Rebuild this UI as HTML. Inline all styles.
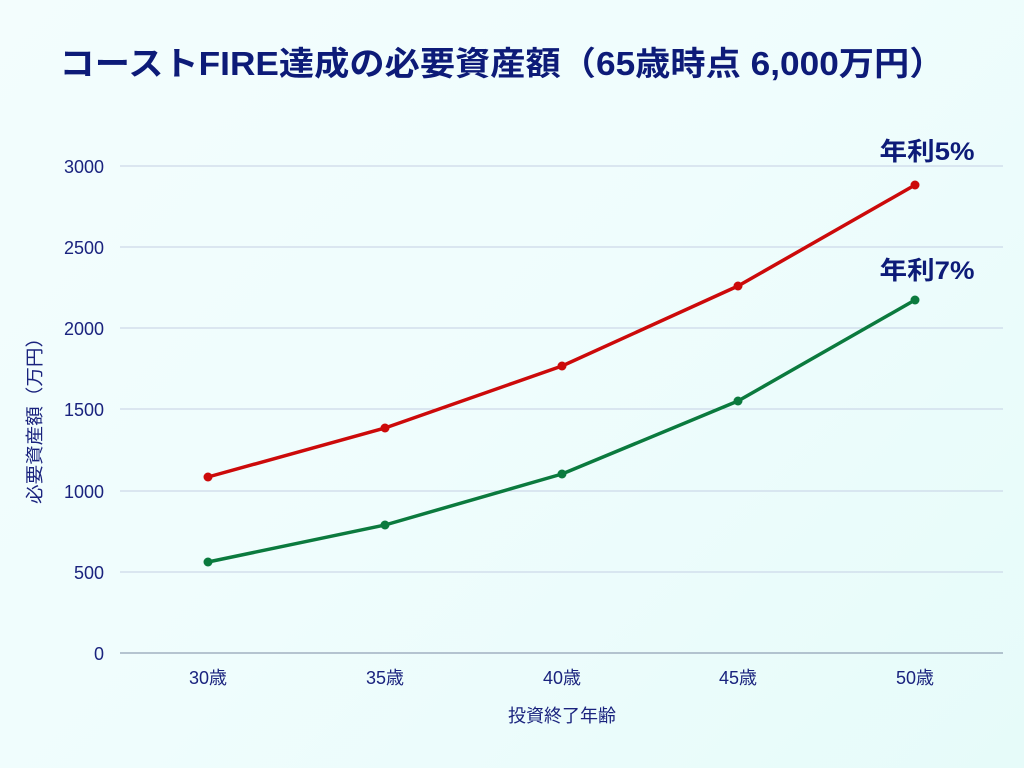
<!DOCTYPE html>
<html><head><meta charset="utf-8"><style>
html,body{margin:0;padding:0;}
body{width:1024px;height:768px;background:linear-gradient(135deg,#f3fdfd 0%,#effdfd 50%,#e6fbf9 100%);overflow:hidden;}
</style></head><body>
<svg width="1024" height="768" xmlns="http://www.w3.org/2000/svg" style="position:absolute;left:0;top:0;font-family:'Liberation Sans','Noto Sans CJK JP',sans-serif;">
<text x="502" y="75" text-anchor="middle" font-size="33" font-weight="bold" fill="#0d1b78" textLength="885" lengthAdjust="spacingAndGlyphs">コーストFIRE達成の必要資産額（65歳時点 6,000万円）</text>
<g stroke="#c5d0e4" stroke-width="1">
<line x1="120" y1="166" x2="1003" y2="166"/>
<line x1="120" y1="247" x2="1003" y2="247"/>
<line x1="120" y1="328" x2="1003" y2="328"/>
<line x1="120" y1="409" x2="1003" y2="409"/>
<line x1="120" y1="491" x2="1003" y2="491"/>
<line x1="120" y1="572" x2="1003" y2="572"/>
</g>
<line x1="120" y1="653" x2="1003" y2="653" stroke="#7b8aa3" stroke-width="1"/>
<g font-size="18" fill="#1a237e" text-anchor="end">
<text x="104" y="173">3000</text><text x="104" y="254">2500</text><text x="104" y="335">2000</text>
<text x="104" y="416">1500</text><text x="104" y="498">1000</text><text x="104" y="579">500</text><text x="104" y="660">0</text>
</g>
<g font-size="18" fill="#1a237e" text-anchor="middle">
<text x="208" y="684">30歳</text><text x="385" y="684">35歳</text><text x="562" y="684">40歳</text><text x="738" y="684">45歳</text><text x="915" y="684">50歳</text>
<text x="562" y="722">投資終了年齢</text>
<text transform="translate(41,416) rotate(-90)" textLength="176" lengthAdjust="spacingAndGlyphs">必要資産額（万円）</text>
</g>
<polyline fill="none" stroke="#cc0a0a" stroke-width="3.5" stroke-linejoin="round" points="208,477 385,428 562,366 738,286 915,185"/>
<polyline fill="none" stroke="#0b7a3e" stroke-width="3.5" stroke-linejoin="round" points="208,562 385,525 562,474 738,401 915,300"/>
<g fill="#cc0a0a"><circle cx="208" cy="477" r="4.5"/><circle cx="385" cy="428" r="4.5"/><circle cx="562" cy="366" r="4.5"/><circle cx="738" cy="286" r="4.5"/><circle cx="915" cy="185" r="4.5"/></g>
<g fill="#0b7a3e"><circle cx="208" cy="562" r="4.5"/><circle cx="385" cy="525" r="4.5"/><circle cx="562" cy="474" r="4.5"/><circle cx="738" cy="401" r="4.5"/><circle cx="915" cy="300" r="4.5"/></g>
<g font-size="25" font-weight="bold" fill="#0d1b78" text-anchor="middle">
<text x="927" y="160" textLength="95" lengthAdjust="spacingAndGlyphs">年利5%</text>
<text x="927" y="279" textLength="95" lengthAdjust="spacingAndGlyphs">年利7%</text>
</g>
</svg>
</body></html>
